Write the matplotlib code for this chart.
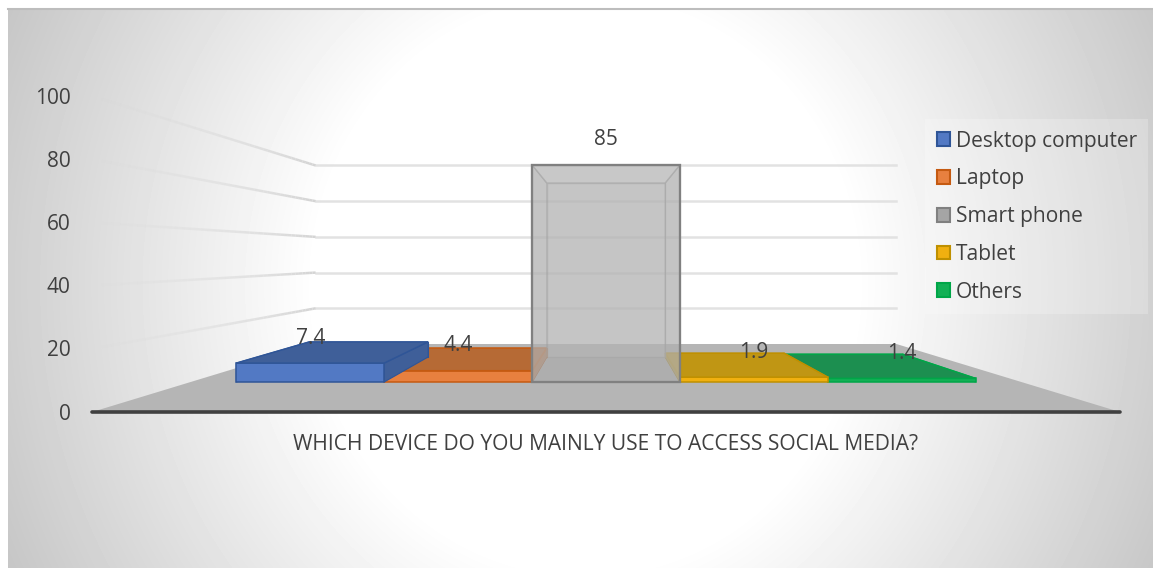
import numpy as np
import matplotlib
matplotlib.use("Agg")
import matplotlib.pyplot as plt
from matplotlib.patches import Polygon, Patch
from matplotlib.collections import LineCollection

categories = ["Desktop computer", "Laptop", "Smart phone", "Tablet", "Others"]
values = [7.4, 4.4, 85, 1.9, 1.4]
y_ticks = [0, 20, 40, 60, 80, 100]
axis_title = "WHICH DEVICE DO YOU MAINLY USE TO ACCESS SOCIAL MEDIA?"
front_colors = ["#5279c4", "#e8803f", "#a5a5a5", "#f0b010", "#12b055"]
edge_colors = ["#2f5597", "#c55a11", "#808080", "#bf9000", "#00a648"]
top_colors = ["#3f5f99", "#b66a35", "#b9b9b9", "#c09614", "#1c8f50"]
draw_order = [1, 0, 4, 3, 2]

W, H = 1153, 568
FONT = "Open Sans"
TXT = "#404040"

# Perspective scales of the chart box
CX, VY, UNIT, FLOOR = 606.0, 255.7, 3.16, 156.3
K = 0.77
HALF_W = 514.0
BAR_W = 183.0
D0, D1 = 0.309, 0.705


def proj(x, v, d):
    s = 1.0 / (1.0 + K * d)
    return (CX + x * s, VY + (FLOOR - v * UNIT) * s)


fig = plt.figure(figsize=(W / 100, H / 100), dpi=100, facecolor="white")
ax = fig.add_axes([0, 0, 1, 1])
ax.set_xlim(0, W)
ax.set_ylim(H, 0)
ax.axis("off")

# Panel background: path gradient
xx, yy = np.meshgrid(np.arange(8, W), np.arange(8, H))
r = np.hypot((xx - 585) / 270.0, (yy - 285) / 285.0)
shade = np.clip(255 - 42 * np.clip(r - 1, 0, None), 190, 255) / 255
ax.imshow(shade, extent=(8, W, H, 8), cmap="gray", vmin=0, vmax=1, aspect="auto", zorder=0)
ax.set_xlim(0, W)
ax.set_ylim(H, 0)
ax.plot([8, W], [8.5, 8.5], color="#bdbdbd", lw=1.5, zorder=1)

# Floor
ax.add_patch(Polygon([proj(-HALF_W, 0, 0), proj(HALF_W, 0, 0), proj(HALF_W, 0, 1), proj(-HALF_W, 0, 1)],
                     closed=True, fc="#b5b5b5", ec="none", zorder=2))

# Gridlines: back wall and fading left wall
for t in y_ticks[1:]:
    ax.plot(*zip(proj(-HALF_W, t, 1), proj(HALF_W, t, 1)), color="#e2e2e2", lw=1.8, zorder=2)
    ds = np.linspace(0, 1, 41)
    pts = np.array([proj(-HALF_W, t, d) for d in ds])
    segs = np.stack([pts[:-1], pts[1:]], axis=1)
    cols = [(0.83, 0.83, 0.83, a) for a in np.linspace(0, 1, 40)]
    ax.add_collection(LineCollection(segs, colors=cols, linewidths=1.8, zorder=2))

# Axis line
ax.plot(*zip(proj(-HALF_W, 0, 0), proj(HALF_W, 0, 0)), color="#404040", lw=2.6,
        solid_capstyle="round", zorder=3)

# Bars
x_left = -BAR_W * len(values) / 2.0
for z, i in enumerate(draw_order, start=4):
    v, fc, ec, tc = values[i], front_colors[i], edge_colors[i], top_colors[i]
    x0 = x_left + i * BAR_W
    x1 = x0 + BAR_W
    A = proj(x0, 0, D0); B = proj(x1, 0, D0); C = proj(x1, v, D0); E = proj(x0, v, D0)
    a = proj(x0, 0, D1); b = proj(x1, 0, D1); c = proj(x1, v, D1); e = proj(x0, v, D1)
    if v > 50:
        ax.add_patch(Polygon([a, b, c, e], fc="#c4c4c4", ec="#a6a6a6", lw=1, alpha=0.6, zorder=z))
        ax.add_patch(Polygon([A, a, e, E], fc="#bdbdbd", ec="#a6a6a6", lw=1, alpha=0.55, zorder=z))
        ax.add_patch(Polygon([B, b, c, C], fc="#bdbdbd", ec="#a6a6a6", lw=1, alpha=0.55, zorder=z))
        ax.add_patch(Polygon([E, C, c, e], fc="#c8c8c8", ec="#a6a6a6", lw=1, alpha=0.55, zorder=z))
        ax.add_patch(Polygon([A, B, C, E], fc=fc, ec=ec, lw=1.6, alpha=0.4, zorder=z))
        ax.add_patch(Polygon([A, B, C, E], fill=False, ec=ec, lw=1.6, zorder=z))
    else:
        ax.add_patch(Polygon([a, b, c, e], fc=tc, ec=ec, lw=0.8, zorder=z))
        ax.add_patch(Polygon([A, a, e, E], fc=tc, ec=ec, lw=0.8, zorder=z))
        ax.add_patch(Polygon([B, b, c, C], fc=tc, ec=ec, lw=0.8, zorder=z))
        ax.add_patch(Polygon([A, B, C, E], fc=fc, ec=ec, lw=1.1, zorder=z))
        ax.add_patch(Polygon([E, C, c, e], fc=tc, ec=ec, lw=1.1, zorder=z))
    # data label
    lx, ly = proj((x0 + x1) / 2.0, v, D0)
    ax.text(lx, ly - 25, f"{v:g}", ha="center", va="center", color=TXT,
            fontsize=15, family=FONT, zorder=12)

# Tick labels
for t in y_ticks:
    _, py = proj(-HALF_W, t, 0)
    ax.text(70.5, py + 2, str(t), ha="right", va="center", color=TXT, fontsize=15, family=FONT, zorder=12)

ax.text(606, 444, axis_title, ha="center", va="center", color=TXT, fontsize=15.1, family=FONT, zorder=12)

# Legend
handles = [Patch(facecolor=f, edgecolor=e, lw=1.5) for f, e in zip(front_colors, edge_colors)]
leg = ax.legend(handles, categories, loc="upper left", bbox_to_anchor=(925 / W, 1 - 119 / H),
                bbox_transform=ax.transAxes, prop={"family": FONT, "size": 15.1},
                labelcolor=TXT, frameon=True, facecolor="white", framealpha=0.22, edgecolor="none",
                fancybox=False, handlelength=0.62, handleheight=0.62, handletextpad=0.29,
                labelspacing=0.8, borderpad=0.55, borderaxespad=0)
leg.set_zorder(13)

fig.savefig("out.png", dpi=100)
